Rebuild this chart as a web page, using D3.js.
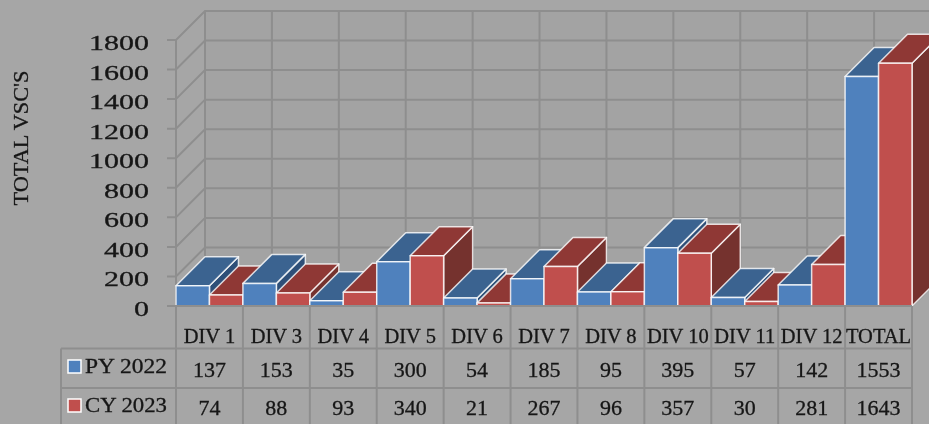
<!DOCTYPE html>
<html><head><meta charset="utf-8">
<script src="https://cdnjs.cloudflare.com/ajax/libs/d3/7.8.5/d3.min.js"></script>
<style>html,body{margin:0;padding:0;background:#a6a6a6;overflow:hidden}svg{display:block}text{font-family:"Liberation Serif",serif;fill:#161616;stroke:#161616;stroke-width:.3px}</style>
</head><body><svg id="c" width="929" height="424"></svg>
<script>
const categories=["DIV 1","DIV 3","DIV 4","DIV 5","DIV 6","DIV 7","DIV 8","DIV 10","DIV 11","DIV 12","TOTAL"];
const py2022=[137,153,35,300,54,185,95,395,57,142,1553];
const cy2023=[74,88,93,340,21,267,96,357,30,281,1643];
const yTicks=[0,200,400,600,800,1000,1200,1400,1600,1800];
const seriesNames=["PY 2022","CY 2023"];
const W=929,H=424,depth=29;
const x=d3.scaleBand().domain(categories).range([176,912]).padding(0);
const y=d3.scaleLinear().domain([0,1800]).range([306,40]);
const sub=d3.scaleBand().domain(seriesNames).range([0,x.bandwidth()]);
const colors={
 "PY 2022":{front:"#4f81bd",top:"#3b6390",side:"#2f5078"},
 "CY 2023":{front:"#c0504d",top:"#8f3836",side:"#75302d"}};
const svg=d3.select("#c");
const defs=svg.append("defs");
defs.append("filter").attr("id","soft").append("feGaussianBlur").attr("stdDeviation",0.45);
const root=svg.append("g").attr("filter","url(#soft)");
root.append("rect").attr("width",W).attr("height",H).attr("fill","#a6a6a6");
const gridC="#8e8e8e";
const [x0,x1]=x.range();
const y0=y(0);
root.append("rect").attr("x",x0+depth).attr("y",y(1800)-depth).attr("width",x1-x0).attr("height",y0-y(1800)).attr("fill","#a3a3a3");
const grid=root.append("g").attr("stroke",gridC).attr("stroke-width",2).attr("fill","none");
grid.selectAll(".h").data(yTicks).join("path").attr("d",t=>`M${x0-9},${y(t)}H${x0}L${x0+depth},${y(t)-depth}H${x1+depth}`);
grid.append("path").attr("d",`M${x0+depth},${y(1800)-depth}V${y0-depth}`);
grid.append("path").attr("d",`M${x0},${y(1800)}V${H}`);
grid.append("path").attr("d",`M${x0+depth},${y(1800)-depth}H${W}`);
categories.forEach(c=>{
  const xr=x(c)+x.bandwidth();
  grid.append("path").attr("d",`M${xr+depth},${y(1800)-depth}V${y0-depth}`);
  grid.append("path").attr("d",`M${xr},${y0}L${xr+depth},${y0-depth}`);
});
// bars: left to right so later boxes cover earlier ones
const bars=root.append("g").attr("stroke","#fff").attr("stroke-opacity",0.8).attr("stroke-width",1.5).attr("stroke-linejoin","round");
categories.forEach((c,i)=>{
  [[seriesNames[0],py2022[i]],[seriesNames[1],cy2023[i]]].forEach(([s,v])=>{
    const l=x(c)+sub(s),r=l+sub.bandwidth(),t=y(v),b=y0,col=colors[s];
    bars.append("path").attr("fill",col.side).attr("d",`M${r},${b}L${r+depth},${b-depth}V${t-depth}L${r},${t}Z`);
    bars.append("path").attr("fill",col.top).attr("d",`M${l},${t}L${l+depth},${t-depth}H${r+depth}L${r},${t}Z`);
    bars.append("rect").attr("fill",col.front).attr("x",l).attr("y",t).attr("width",r-l).attr("height",b-t);
  });
});
// data table
const tbl=root.append("g").attr("stroke",gridC).attr("stroke-width",2).attr("fill","none");
[348.5,388].forEach(v=>tbl.append("path").attr("d",`M61,${v}H${x1}`));
tbl.append("path").attr("d",`M${x0-9},${y0}H${x1}`);
tbl.append("path").attr("d",`M61,348.5V${H}`);
categories.forEach(c=>tbl.append("path").attr("d",`M${x(c)},${y0}V${H}`));
tbl.append("path").attr("d",`M${x1},${y0}V${H}`);
// labels
const tx=root.append("g");
tx.selectAll(".yl").data(yTicks).join("text").attr("x",149).attr("y",t=>y(t)+10).attr("text-anchor","end").attr("font-size",20)
  .attr("textLength",t=>String(t).length*15).attr("lengthAdjust","spacingAndGlyphs").text(t=>t);
tx.append("text").attr("transform","translate(28,138) rotate(-90)").attr("text-anchor","middle").attr("font-size",20).attr("textLength",135).attr("lengthAdjust","spacingAndGlyphs").text("TOTAL VSC'S");
tx.selectAll(".cat").data(categories).join("text").attr("x",c=>x(c)+x.bandwidth()/2).attr("y",343).attr("text-anchor","middle").attr("font-size",20.5).text(c=>c);
tx.selectAll(".r1").data(py2022).join("text").attr("x",(d,i)=>x(categories[i])+x.bandwidth()/2).attr("y",377).attr("text-anchor","middle").attr("font-size",22).text(d=>d);
tx.selectAll(".r2").data(cy2023).join("text").attr("x",(d,i)=>x(categories[i])+x.bandwidth()/2).attr("y",415).attr("text-anchor","middle").attr("font-size",22).text(d=>d);
// legend keys
const keyY=[360,399];
seriesNames.forEach((s,i)=>{
  root.append("rect").attr("x",68).attr("y",keyY[i]).attr("width",13).attr("height",13).attr("fill",colors[s].front).attr("stroke","#fff").attr("stroke-width",1.5);
  tx.append("text").attr("x",85).attr("y",keyY[i]+13).attr("font-size",20).attr("textLength",82).attr("lengthAdjust","spacingAndGlyphs").text(s);
});
</script></body></html>
